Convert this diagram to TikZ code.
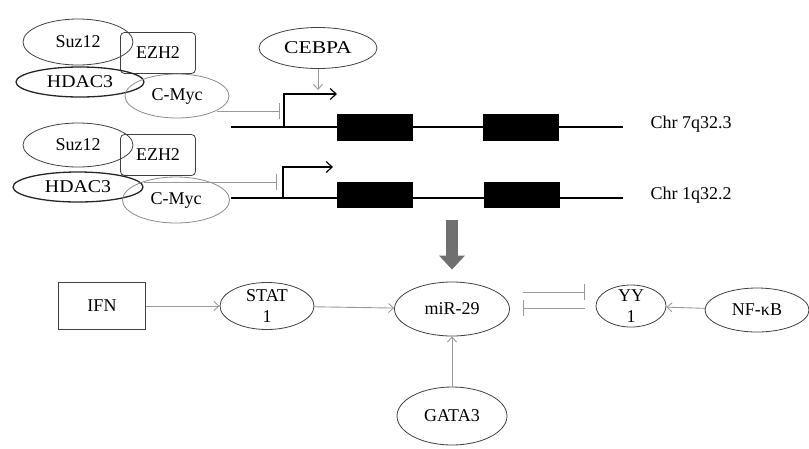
\documentclass[tikz,border=0pt]{standalone}
\usepackage{fontspec}
\setmainfont{Liberation Serif}
\usepackage{graphicx}
\usetikzlibrary{shapes.geometric,arrows.meta}

\begin{document}
\begin{tikzpicture}[x=1pt,y=-1pt,
                    font=\fontsize{18}{21}\selectfont,
                    prot/.style n args={2}{ellipse,draw=black!75,line width=0.8pt,
                    inner sep=0pt,
                    minimum width=#1pt,
                    minimum height=#2pt},
                    cplx/.style n args={2}{rectangle,draw=black!75,line width=0.8pt,
                    rounded corners=4pt,
                    minimum width=#1pt,
                    minimum height=#2pt},
                    exon/.style={rectangle,fill=black,inner sep=0pt,
                    minimum width=76pt,minimum height=27pt},
                    dna/.style={line width=1.2pt},
                    tss/.style={line width=1.2pt,-{Straight Barb[length=6pt,width=11pt]}},
                    act/.style={draw=black!40,line width=0.9pt,-{Straight Barb[length=5pt,width=9pt]}},
                    inh/.style={draw=black!40,line width=0.9pt,-{Bar[width=16pt]}}]
    \useasboundingbox (0,0) rectangle (809,448);
    % repressor complexes
    \node[prot={110}{46}](suzA) at (78,42) {Suz12};
    \node[cplx={75}{41}](ezhA) at (158,53) {EZH2};
    \node[prot={128}{30},draw=black!85,line width=1.3pt](hdacA) at (80,82) {\scalebox{1.1}[1]{HDAC3}};
    \node[prot={104}{44},draw=black!45](cmycA) at (177,96) {C-Myc};
    \node[prot={110}{44}](suzB) at (78,145) {Suz12};
    \node[cplx={75}{41}](ezhB) at (158,155) {EZH2};
    \node[prot={130}{30},draw=black!85,line width=1.3pt](hdacB) at (78,187) {\scalebox{1.1}[1]{HDAC3}};
    \node[prot={107}{46},draw=black!45](cmycB) at (176,200) {C-Myc};
    \node[prot={118}{41}](cebpa) at (318,48) {\scalebox{1.2}[1]{CEBPA}};
    % genes
    \coordinate (tssA) at (284,127);
    \coordinate (tssB) at (283,198);
    \coordinate (barA) at (280,111);
    \coordinate (barB) at (277,182);
    \coordinate (cebpaTip) at (318,90);
    \draw[dna] (231,127) -- (623,127);
    \draw[dna] (231,198) -- (623,198);
    \node[exon](exonA1) at (375,127.5) {};
    \node[exon](exonA2) at (521,127.5) {};
    \node[exon,minimum height=26pt](exonB1) at (375,195) {};
    \node[exon,minimum height=26pt](exonB2) at (522,195) {};
    \node[anchor=west](chrA) at (647,124) {Chr 7q32.3};
    \node[anchor=west](chrB) at (647,195) {Chr 1q32.2};
    \draw[tss] (tssA) |- (337,94);
    \draw[tss] (tssB) |- (333,167);
    \draw[act] (cebpa.south) -- (cebpaTip);
    \draw[inh] (cmycA.-20 |- barA) -- (barA);
    \draw[inh] (hdacB.east |- barB) -- (barB);
    % pathway
    \node[draw=black!75,line width=1.2pt,minimum width=87pt,minimum height=47pt](ifn) at (102,306) {IFN};
    \node[prot={94}{47},label={[align=center]center:STAT\\1}](stat) at (267,306) {};
    \node[prot={115}{54}](mir) at (452,309) {miR-29};
    \node[prot={70}{42},label={[align=center]center:YY\\1}](yy) at (631,306) {};
    \node[prot={104}{44}](nfkb) at (757,310) {NF-κB};
    \node[prot={110}{58}](gata) at (452,416) {GATA3};
    \coordinate (geneOut) at (452,220);
    \draw[line width=12pt,draw=black!56,shorten >=12pt,
          -{Triangle[length=14pt,width=25pt]}] (geneOut) -- (mir.north);
    \draw[act] (ifn) -- (stat);
    \draw[act] (stat) -- (mir);
    \draw[act] (gata) -- (mir);
    \draw[act] (nfkb) -- (yy);
    \draw[inh] ([xshift=13pt,yshift=17pt]mir.east) -- ([xshift=-11pt,yshift=14pt]yy.west);
    \draw[inh] ([xshift=-11pt,yshift=-2pt]yy.west) -- ([xshift=13pt,yshift=1pt]mir.east);
\end{tikzpicture}
\end{document}
